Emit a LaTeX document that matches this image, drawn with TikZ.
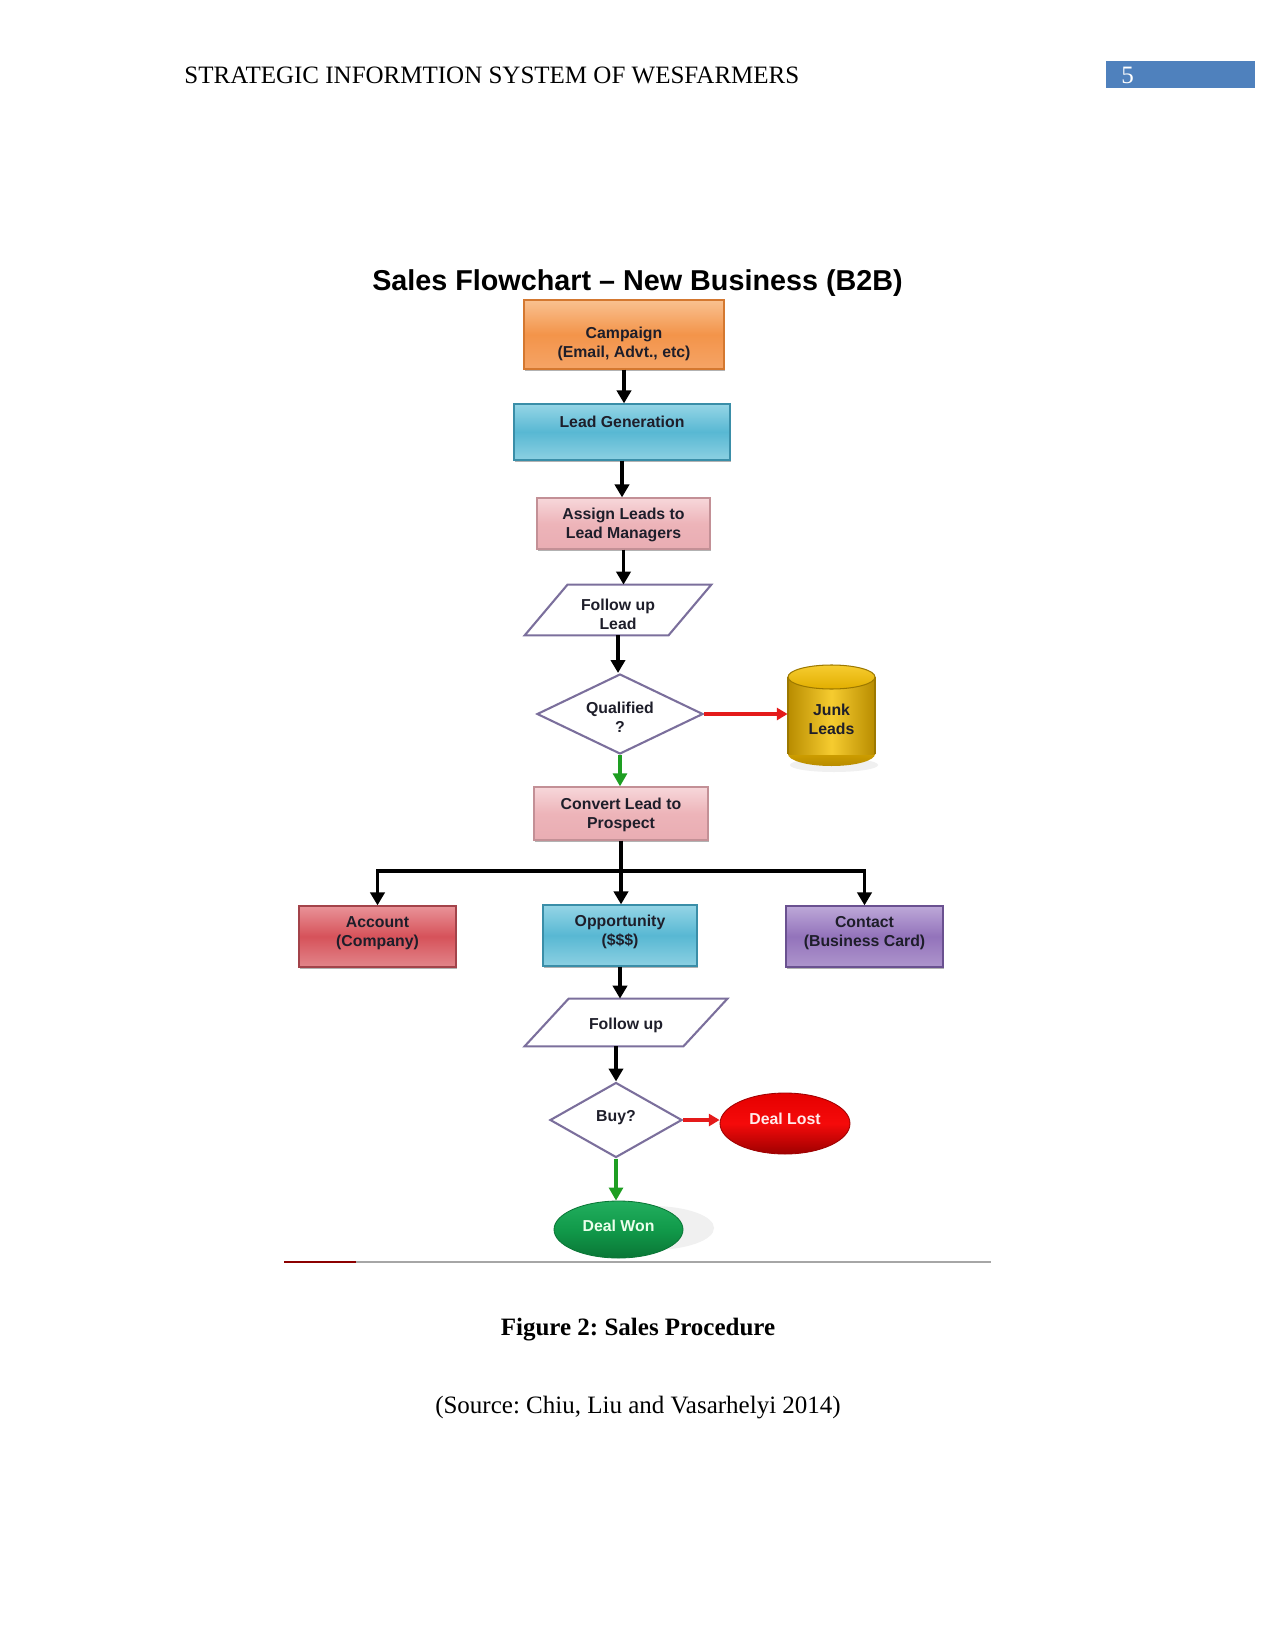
\documentclass[tikz,border=0pt]{standalone}
\usepackage{fontspec}
\setmainfont{Liberation Serif}
\newfontfamily\chartfont{Liberation Sans}
\usetikzlibrary{arrows.meta,shapes.geometric,shadows,calc,shadings}
\frenchspacing
\definecolor{hdrblue}{HTML}{4F81BD}
\definecolor{txtdark}{HTML}{1E1E2A}
\definecolor{orT}{HTML}{F9C190}\definecolor{orM}{HTML}{F3944A}\definecolor{orB}{HTML}{F5A466}\definecolor{orD}{HTML}{D47830}
\definecolor{tlT}{HTML}{95D5E6}\definecolor{tlM}{HTML}{58B8D3}\definecolor{tlB}{HTML}{8CD0E2}\definecolor{tlD}{HTML}{3A8EA8}
\definecolor{pkT}{HTML}{F7D7DA}\definecolor{pkM}{HTML}{EDB4B9}\definecolor{pkB}{HTML}{E9ADB3}\definecolor{pkD}{HTML}{C39096}
\definecolor{rdT}{HTML}{E99398}\definecolor{rdM}{HTML}{D6525A}\definecolor{rdB}{HTML}{E2858A}\definecolor{rdD}{HTML}{A3434A}
\definecolor{puT}{HTML}{BDA8D8}\definecolor{puM}{HTML}{9373BB}\definecolor{puB}{HTML}{AE95CC}\definecolor{puD}{HTML}{6A5190}
\definecolor{lineP}{HTML}{7B6F9C}
\definecolor{gdT}{HTML}{F6CC30}\definecolor{gdM}{HTML}{E2AE00}\definecolor{gdB}{HTML}{B88C00}\definecolor{gdD}{HTML}{9C7800}
\definecolor{arRed}{HTML}{E41A1A}
\definecolor{arGreen}{HTML}{1E9E22}
\definecolor{wonT}{HTML}{22AE5E}\definecolor{wonM}{HTML}{119A4A}\definecolor{wonB}{HTML}{0A7636}
\definecolor{lostT}{HTML}{E60000}\definecolor{lostM}{HTML}{F50A0A}\definecolor{lostB}{HTML}{9E0000}
\newcommand\pxu{0.48pt}
\begin{document}
\begin{tikzpicture}[x=0.48pt,y=-0.48pt,
  chart/.style={font=\chartfont\bfseries\fontsize{7.6}{9.2}\selectfont, align=center, inner sep=0pt, text=txtdark},
  boxnode/.style={rectangle, line width=0.6pt,
     drop shadow={shadow xshift=0.7pt, shadow yshift=-1pt, opacity=0.5, fill=black!60}},
  orangebox/.style={boxnode, draw=orD, top color=orT, bottom color=orB, middle color=orM},
  tealbox/.style={boxnode, draw=tlD, top color=tlT, bottom color=tlB, middle color=tlM},
  pinkbox/.style={boxnode, draw=pkD, top color=pkT, bottom color=pkB, middle color=pkM},
  redbox/.style={boxnode, draw=rdD, top color=rdT, bottom color=rdB, middle color=rdM},
  purplebox/.style={boxnode, draw=puD, top color=puT, bottom color=puB, middle color=puM},
  decision/.style={diamond, aspect=2, inner sep=0pt, draw=lineP, line width=1pt, fill=white},
  paraline/.style={draw=lineP, line width=1pt, fill=white},
  flowarrow/.style={line width=1.9pt, -{Triangle[width=6.8pt,length=6.2pt]}},
  redarrow/.style={arRed, line width=2.2pt, -{Triangle[width=5.8pt,length=5.2pt]}},
  greenarrow/.style={arGreen, line width=2.2pt, -{Triangle[width=6.6pt,length=6.2pt]}},
  hdr/.style={font=\fontsize{12}{14}\selectfont, inner sep=0pt}
]
\useasboundingbox (0,0) rectangle (1275,1650);
\fill[white] (0,0) rectangle (1275,1650);

% header
\node[hdr, anchor=west] (header) at (184,75) {STRATEGIC INFORMTION SYSTEM OF WESFARMERS};
\fill[hdrblue] (1106,61) rectangle (1255,88);
\node[hdr, anchor=west, text=white] (pagenum) at (1121,75) {5};

% title
\node[font=\chartfont\bfseries\fontsize{13.8}{16}\selectfont, inner sep=0pt] (title) at (637.5,283)
  {Sales Flowchart – New Business (B2B)};

% boxes
\node[orangebox, minimum width=200*\pxu, minimum height=69*\pxu] (camp) at (624,334.5) {};
\node[chart] (camptext) at (624,344) {Campaign\\(Email, Advt., etc)};
\node[tealbox, minimum width=216*\pxu, minimum height=56*\pxu] (lead) at (622,432) {};
\node[chart] (leadtext) at (622,422) {Lead Generation};
\node[pinkbox, minimum width=173*\pxu, minimum height=51*\pxu] (assign) at (623.5,523.5) {};
\node[chart] (assigntext) at (623.5,525) {Assign Leads to\\Lead Managers};

% follow up lead (parallelogram)
\node[minimum width=143*\pxu, minimum height=50*\pxu, inner sep=0pt] (ful) at (618,610) {};
\path[paraline] ([xshift=10.3pt]ful.north west) -- ([xshift=10.3pt]ful.north east)
   -- ([xshift=-10.3pt]ful.south east) -- ([xshift=-10.3pt]ful.south west) -- cycle;
\node[chart] (fultext) at (618,614) {Follow up\\Lead};

% qualified
\node[decision, minimum width=166*\pxu, minimum height=80*\pxu] (qual) at (620,714) {};
\node[chart] (qualtext) at (620,717) {Qualified\\?};

% junk leads cylinder
\node[minimum width=87*\pxu, minimum height=101*\pxu, inner sep=0pt] (junk) at (831.5,715.5) {};
\fill[gray!12] (834,765) ellipse (44 and 7);
\shade[top color=gdM, bottom color=gdB] (831.5,754) ellipse (43.5 and 12);
\shade[left color=gdB, right color=gdB, middle color=gdT] (788,677) rectangle (875,754);
\draw[gdD, line width=0.5pt] (788,677) -- (788,754) (875,677) -- (875,754);
\draw[gdD, line width=0.5pt, top color=gdT, bottom color=gdM] (831.5,677) ellipse (43.5 and 12);
\node[chart] (junktext) at (831.5,719) {Junk\\Leads};

% convert
\node[pinkbox, minimum width=174*\pxu, minimum height=53*\pxu] (conv) at (621,813.5) {};
\node[chart] (convtext) at (621,815) {Convert Lead to\\Prospect};

% three boxes
\node[redbox, minimum width=157*\pxu, minimum height=61*\pxu] (acct) at (377.5,936.5) {};
\node[chart] (accttext) at (377.5,933) {Account\\(Company)};
\node[tealbox, minimum width=154*\pxu, minimum height=61*\pxu] (opp) at (620,935.5) {};
\node[chart] (opptext) at (620,932) {Opportunity\\(\$\$\$)};
\node[purplebox, minimum width=157*\pxu, minimum height=61*\pxu] (cont) at (864.5,936.5) {};
\node[chart] (conttext) at (864.5,933) {Contact\\(Business Card)};

% follow up (parallelogram)
\node[minimum width=158*\pxu, minimum height=47*\pxu, inner sep=0pt] (fu) at (626,1022.5) {};
\path[paraline] ([xshift=10.6pt]fu.north west) -- ([xshift=10.6pt]fu.north east)
   -- ([xshift=-10.6pt]fu.south east) -- ([xshift=-10.6pt]fu.south west) -- cycle;
\node[chart] (futext) at (626,1025) {Follow up};

% buy
\node[decision, minimum width=132*\pxu, minimum height=75*\pxu] (buy) at (616,1120) {};
\node[chart] (buytext) at (616,1118) {Buy?};

% deal lost / won
\node[ellipse, minimum width=130*\pxu, minimum height=61*\pxu, inner sep=0pt,
      top color=lostT, bottom color=lostB, middle color=lostM,
      draw=lostB, line width=0.4pt] (lost) at (785,1123.5) {};
\node[chart, text=red!8] (losttext) at (785,1119) {Deal Lost};
\fill[gray!12] (652,1228) ellipse (62 and 22);
\node[ellipse, minimum width=129*\pxu, minimum height=57*\pxu, inner sep=0pt,
      top color=wonT, bottom color=wonB, middle color=wonM,
      draw=wonB, line width=0.4pt] (won) at (618.5,1229.5) {};
\node[chart, text=green!8] (wontext) at (618.5,1226) {Deal Won};

% arrows
\draw[flowarrow] (camp.south) -- (camp.south |- lead.north);
\draw[flowarrow] (lead.south) -- (lead.south |- assign.north);
\draw[flowarrow] (assign.south) -- (assign.south |- ful.north);
\draw[flowarrow] (ful.south) -- (ful.south |- qual.north);
\draw[redarrow] (qual.east) -- (junk.west |- qual.east);
\draw[greenarrow] (qual.south) -- (qual.south |- conv.north);
\coordinate (busL) at (acct.north |- 0,871);
\coordinate (busR) at (cont.north |- 0,871);
\draw[line width=1.9pt] (busL) -- (busR);
\draw[flowarrow] (conv.south) -- (conv.south |- opp.north);
\draw[flowarrow] ([yshift=0.95pt]busL) -- (acct.north);
\draw[flowarrow] ([yshift=0.95pt]busR) -- (cont.north);
\draw[flowarrow] (opp.south) -- (opp.south |- fu.north);
\draw[flowarrow] (fu.south -| buy.north) -- (buy.north);
\draw[redarrow, line width=1.5pt] (buy.east) -- (lost.west |- buy.east);
\draw[greenarrow] (buy.south) -- (buy.south |- won.north);

% bottom rule
\coordinate (ruleL) at (284,1262);
\coordinate (ruleM) at (356,1262);
\coordinate (ruleR) at (991,1262);
\draw[gray!70, line width=0.9pt] (ruleL) -- (ruleR);
\draw[red!55!black, line width=0.9pt] (ruleL) -- (ruleM);

% caption
\node[font=\bfseries\fontsize{12}{14}\selectfont, inner sep=0pt] (cap) at (638,1330) {Figure 2: Sales Procedure};
\node[font=\fontsize{12}{14}\selectfont, inner sep=0pt] (src) at (638,1408) {(Source: Chiu, Liu and Vasarhelyi 2014)};
\end{tikzpicture}
\end{document}
